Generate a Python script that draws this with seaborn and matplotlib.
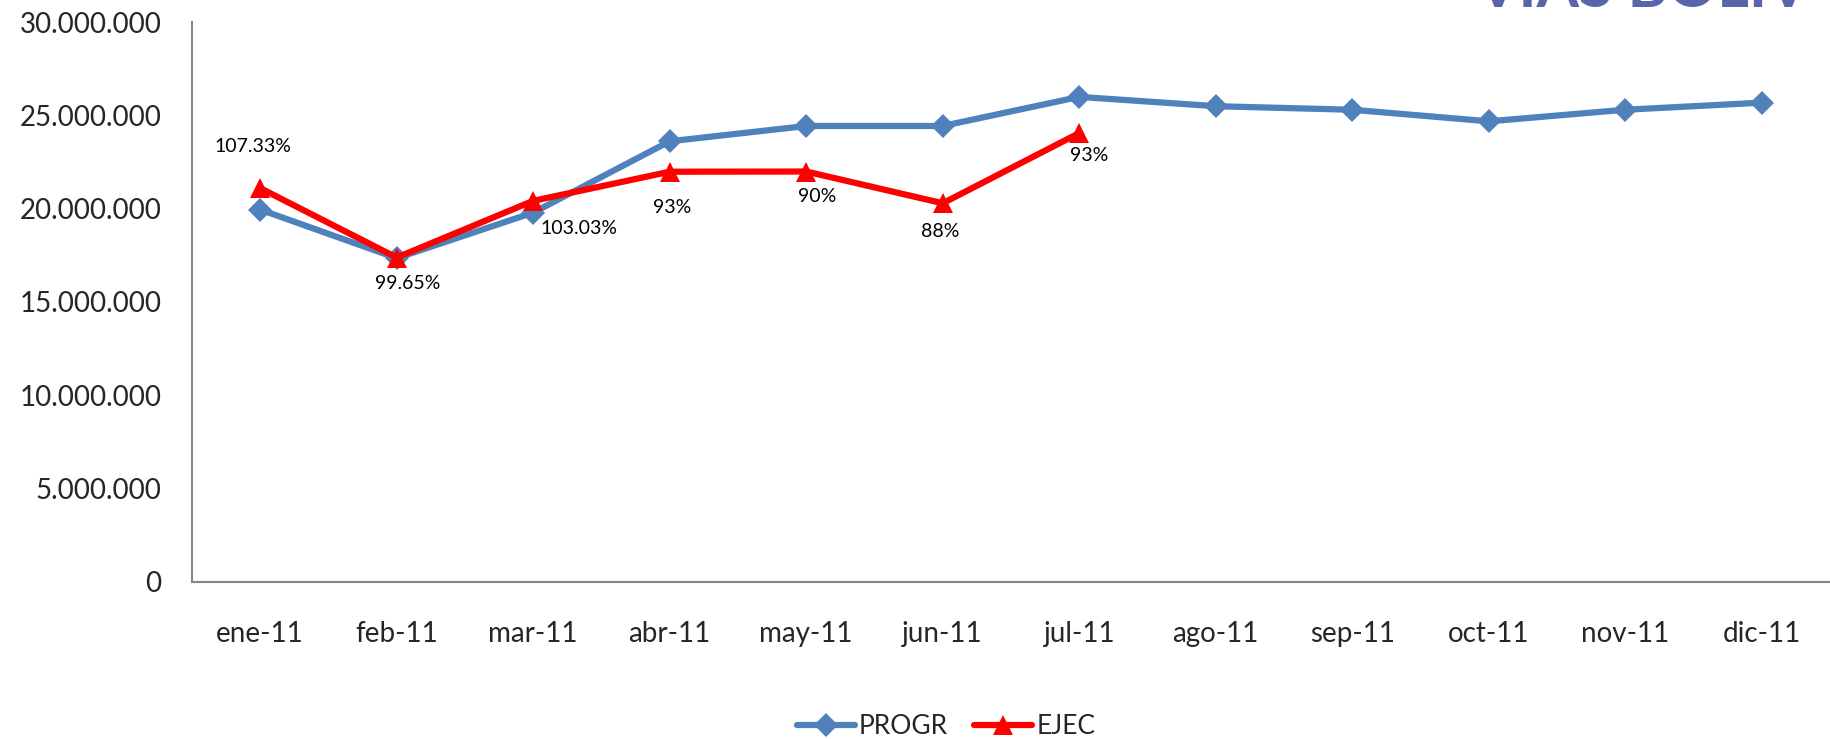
import numpy as np
import pandas as pd
import matplotlib
matplotlib.use("Agg")
import matplotlib.pyplot as plt
import seaborn as sns

# ---- data ----
months = ["ene-11", "feb-11", "mar-11", "abr-11", "may-11", "jun-11",
          "jul-11", "ago-11", "sep-11", "oct-11", "nov-11", "dic-11"]
progr = [19950000, 17350000, 19790000, 23610000, 24430000, 24430000,
         25990000, 25490000, 25300000, 24680000, 25300000, 25680000]
ejec = [21100000, 17380000, 20420000, 21980000, 21990000, 20290000,
        24050000]
pct_labels = ["107.33%", "99.65%", "103.03%", "93%", "90%", "88%", "93%"]
# label offsets in points, relative to the EJEC point
label_offsets = [(-5, 30), (8, -19), (33, -20), (2, -26), (8, -18), (-2, -20), (7, -16)]

df = pd.DataFrame({
    "mes": months * 2,
    "valor": progr + ejec + [np.nan] * (len(months) - len(ejec)),
    "serie": ["PROGR"] * len(months) + ["EJEC"] * len(months),
})

sns.set_style("white")
plt.rcParams["font.family"] = ["Lato", "DejaVu Sans"]

fig = plt.figure(figsize=(18.3, 7.39), dpi=100)
ax = fig.add_axes([0.1049, 0.2125, 0.8951, 0.7577])

sns.lineplot(
    data=df, x="mes", y="valor", hue="serie", style="serie",
    palette={"PROGR": "#4F81BD", "EJEC": "#FF0000"},
    markers={"PROGR": "D", "EJEC": "^"}, dashes=False,
    markersize=12, linewidth=4.5, markeredgewidth=0, sort=False,
    ax=ax, legend=False,
)
# make the triangles a bit larger, like the reference
ax.lines[1].set_markersize(15)

for i, (lab, (dx, dy)) in enumerate(zip(pct_labels, label_offsets)):
    ax.annotate(lab, xy=(i, ejec[i]), xytext=(dx, dy), textcoords="offset points",
                ha="center", va="center", fontsize=14, color="black")

ax.set_xlim(-0.5, len(months) - 0.5)
ax.set_ylim(0, 30000000)
ax.set_yticks(np.arange(0, 30000001, 5000000))
ax.yaxis.set_major_formatter(
    matplotlib.ticker.FuncFormatter(lambda v, p: f"{int(v):,}".replace(",", ".")))
ax.tick_params(axis="y", length=0, pad=22, labelsize=20)
ax.tick_params(axis="x", length=0, pad=28, labelsize=20)
ax.set_xlabel("")
ax.set_ylabel("")
for s in ["top", "right"]:
    ax.spines[s].set_visible(False)
for s in ["left", "bottom"]:
    ax.spines[s].set_color("#868686")
    ax.spines[s].set_linewidth(1.5)

handles = [
    plt.Line2D([], [], color="#4F81BD", marker="D", markersize=12, linewidth=4.5,
               markeredgewidth=0, solid_capstyle="round"),
    plt.Line2D([], [], color="#FF0000", marker="^", markersize=15, linewidth=4.5,
               markeredgewidth=0, solid_capstyle="round"),
]
fig.legend(handles, ["PROGR", "EJEC"], loc="lower center",
           bbox_to_anchor=(0.517, -0.032), ncol=2, frameon=False, fontsize=19,
           handlelength=2.2, handletextpad=0.15, columnspacing=1.0)

# fragment of the logo cut off at the top right corner
fig.text(0.807, 1 - 7 / 739, "VIAS BOLIV", fontsize=44, fontweight="bold",
         color="#3b4a9c", ha="left", va="baseline", alpha=0.85)

fig.savefig("out.png", dpi=100)
